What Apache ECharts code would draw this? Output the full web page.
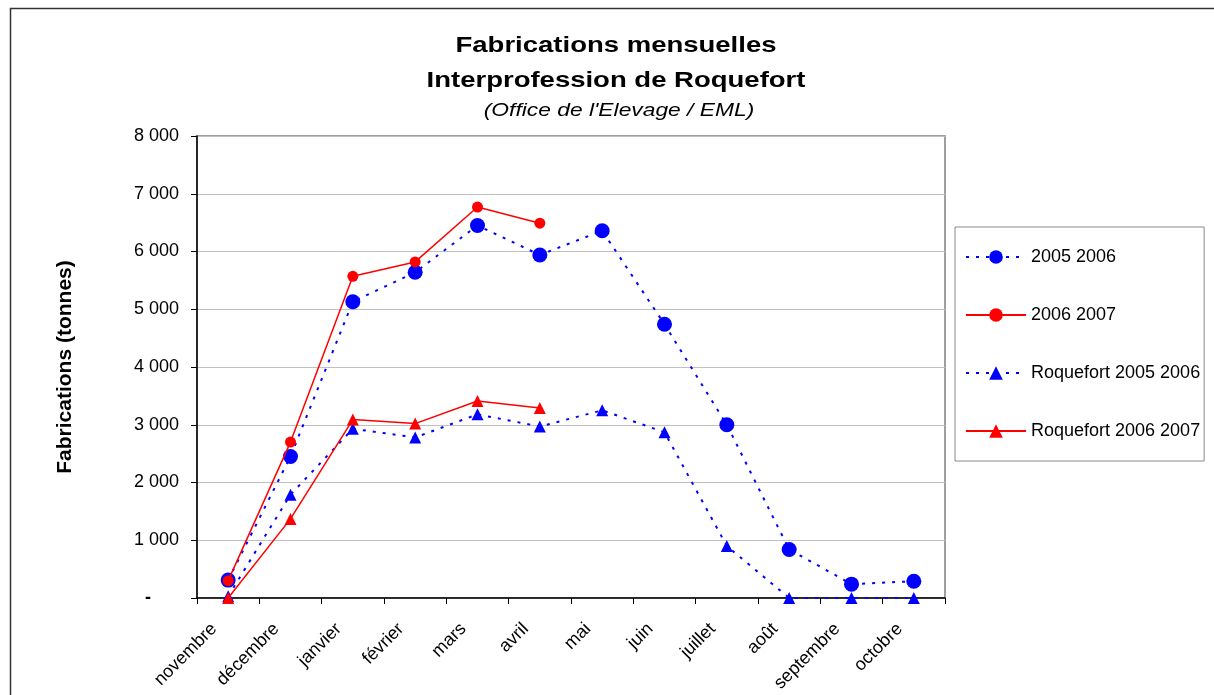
<!DOCTYPE html>
<html>
<head>
<meta charset="utf-8">
<script src="https://cdn.jsdelivr.net/npm/echarts@6/dist/echarts.min.js"></script>
<style>
  html, body { margin: 0; padding: 0; background: #fff; }
  #main { width: 1214px; height: 695px; }
</style>
</head>
<body>
<div id="main"></div>
<script>
// mois de la campagne
var mois = ['novembre', 'décembre', 'janvier', 'février', 'mars', 'avril', 'mai', 'juin', 'juillet', 'août', 'septembre', 'octobre'];
// fabrications (tonnes)
var fab0506 = [310, 2450, 5130, 5640, 6450, 5940, 6360, 4740, 3000, 840, 240, 290];
var fab0607 = [300, 2700, 5570, 5820, 6770, 6490, null, null, null, null, null, null];
var roq0506 = [30, 1790, 2930, 2780, 3180, 2970, 3250, 2870, 900, 0, 0, 0];
var roq0607 = [0, 1370, 3090, 3020, 3410, 3290, null, null, null, null, null, null];
var yTicks = [0, 1000, 2000, 3000, 4000, 5000, 6000, 7000, 8000];

var font = 'Liberation Sans, Arial, sans-serif';
var chart = echarts.init(document.getElementById('main'));

// format "8 000", zero shown as "-"
function fmt(v) {
  if (v === 0) return '{z|-}';
  return String(v).replace(/\B(?=(\d{3})+(?!\d))/g, ' ');
}

var option = {
  backgroundColor: '#fff',
  textStyle: { fontFamily: font },
  graphic: [
    { type: 'rect', shape: { x: 10.5, y: 8.5, width: 1220, height: 700 }, style: { fill: 'none', stroke: '#333', lineWidth: 1.5 } },
    { type: 'text', x: 616, y: 46, scaleX: 1.25, style: { text: 'Fabrications mensuelles', fontFamily: font, fontSize: 22, fontWeight: 'bold', fill: '#000', align: 'center', verticalAlign: 'middle' } },
    { type: 'text', x: 616, y: 81, scaleX: 1.25, style: { text: 'Interprofession de Roquefort', fontFamily: font, fontSize: 22, fontWeight: 'bold', fill: '#000', align: 'center', verticalAlign: 'middle' } },
    { type: 'text', x: 619, y: 111, scaleX: 1.2, style: { text: "(Office de l'Elevage / EML)", fontFamily: font, fontSize: 19, fontStyle: 'italic', fill: '#000', align: 'center', verticalAlign: 'middle' } }
  ],
  legend: {
    orient: 'vertical',
    left: 955,
    top: 227,
    padding: [21, 4, 21, 10],
    itemGap: 40,
    itemWidth: 60,
    itemHeight: 17,
    borderColor: '#888',
    borderWidth: 1,
    textStyle: { fontFamily: font, fontSize: 18, color: '#000' },
    data: ['2005 2006', '2006 2007', 'Roquefort 2005 2006', 'Roquefort 2006 2007']
  },
  grid: {
    left: 197, top: 136, width: 748, height: 462,
    show: true, borderColor: '#808080', borderWidth: 1.5, backgroundColor: '#fff'
  },
  xAxis: {
    type: 'category',
    data: mois,
    boundaryGap: true,
    axisLine: { lineStyle: { color: '#000', width: 1.5 } },
    axisTick: { show: true, interval: 0, length: 6, lineStyle: { color: '#000' } },
    axisLabel: { interval: 0, rotate: 45, fontSize: 18, color: '#000', margin: 14, padding: [0, 20, 0, 0], fontFamily: font }
  },
  yAxis: {
    type: 'value',
    min: yTicks[0],
    max: yTicks[yTicks.length - 1],
    interval: 1000,
    name: 'Fabrications (tonnes)',
    nameLocation: 'middle',
    nameRotate: 90,
    nameGap: 121,
    nameTextStyle: { fontSize: 21, fontWeight: 'bold', color: '#000', fontFamily: font },
    axisLine: { show: true, lineStyle: { color: '#000', width: 1.5 } },
    axisTick: { show: true, length: 6, lineStyle: { color: '#000' } },
    axisLabel: {
      fontSize: 18, color: '#000', margin: 18, fontFamily: font,
      formatter: fmt,
      rich: { z: { fontSize: 18, color: '#000', fontWeight: 'bold', padding: [0, 28, 0, 0] } }
    },
    splitLine: { lineStyle: { color: '#c0c0c0', width: 1 } }
  },
  series: [
    {
      name: '2005 2006', type: 'line', data: fab0506,
      symbol: 'circle', symbolSize: 15,
      itemStyle: { color: '#0000ff' },
      lineStyle: { color: '#0000ff', width: 2, type: [3, 7] },
      z: 2
    },
    {
      name: '2006 2007', type: 'line', data: fab0607,
      symbol: 'circle', symbolSize: 11,
      itemStyle: { color: '#ff0000' },
      lineStyle: { color: '#ff0000', width: 1.5, type: 'solid' },
      z: 3
    },
    {
      name: 'Roquefort 2005 2006', type: 'line', data: roq0506,
      symbol: 'triangle', symbolSize: 12,
      itemStyle: { color: '#0000ff' },
      lineStyle: { color: '#0000ff', width: 2, type: [3, 7] },
      z: 2
    },
    {
      name: 'Roquefort 2006 2007', type: 'line', data: roq0607,
      symbol: 'triangle', symbolSize: 12,
      itemStyle: { color: '#ff0000' },
      lineStyle: { color: '#ff0000', width: 1.5, type: 'solid' },
      z: 3
    }
  ]
};

chart.setOption(option);
</script>
</body>
</html>
